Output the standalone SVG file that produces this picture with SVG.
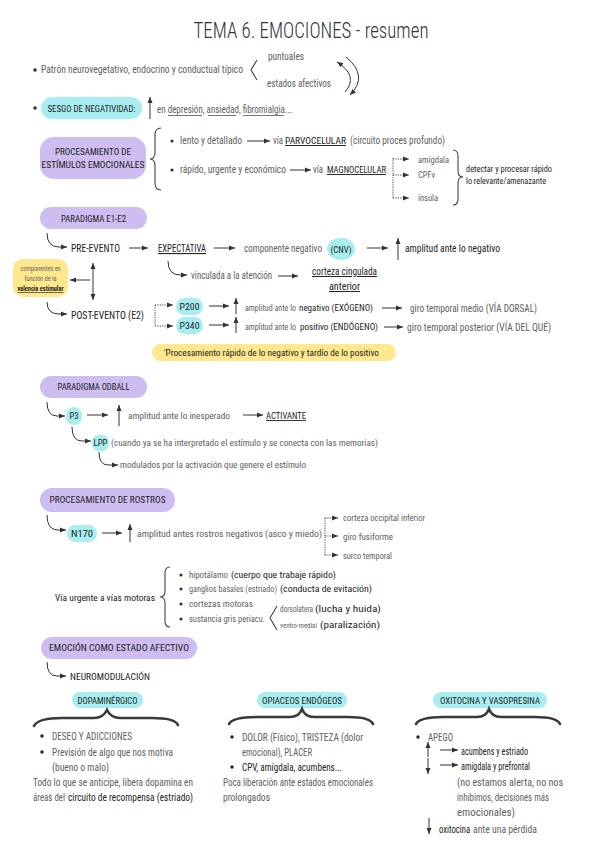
<svg xmlns="http://www.w3.org/2000/svg" width="600" height="848" viewBox="0 0 600 848">
<defs>
<style>
text{font-family:"Roboto Condensed","Noto Sans Condensed","Liberation Sans Narrow","Liberation Sans",sans-serif;font-stretch:condensed;font-size:10px;fill:#606060}
.d{fill:#222}
.b{fill:#1e1e1e;font-size:9px}
.s{font-size:8.5px}
.m{font-size:9px}
.u{text-decoration:underline}
.mid{text-anchor:middle}
.pu{fill:#cdbdf0}
.cy{fill:#a8eef0}
.ye{fill:#fde88e}
.ln{fill:none;stroke:#333;stroke-width:1}
.ul{fill:none;stroke:#555;stroke-width:0.8}
.dot{fill:none;stroke:#444;stroke-width:1;stroke-dasharray:1.2 1.2}
.br{fill:none;stroke:#444;stroke-width:1.1}
.hb{fill:none;stroke:#3a3a3a;stroke-width:2.6;stroke-linecap:round}
</style>
<marker id="ah" markerWidth="7" markerHeight="6" refX="6" refY="3" orient="auto" markerUnits="userSpaceOnUse">
<path d="M0 0.5 L6 3 L0 5.5 Z" fill="#333"/>
</marker>
<marker id="as" markerWidth="7" markerHeight="6" refX="6" refY="3" orient="auto-start-reverse" markerUnits="userSpaceOnUse">
<path d="M0 0.5 L6 3 L0 5.5 Z" fill="#333"/>
</marker>
</defs>
<rect width="600" height="848" fill="#fff"/>

<g id="title"><text x="311" y="38" class="mid" style="font-size:22px;fill:#333;font-weight:300" textLength="235" lengthAdjust="spacingAndGlyphs">TEMA 6. EMOCIONES - resumen</text></g>

<g id="patron">
<circle cx="35" cy="70" r="1.8" fill="#333"/>
<text x="41" y="73" textLength="202" lengthAdjust="spacingAndGlyphs">Patrón neurovegetativo, endocrino y conductual típico</text>
<path class="br" d="M257 60 L251 70 L257 80"/>
<text x="268" y="60" textLength="36" lengthAdjust="spacingAndGlyphs">puntuales</text>
<text x="267" y="87" textLength="64" lengthAdjust="spacingAndGlyphs">estados afectivos</text>
</g>

<g id="sesgo">
<circle cx="35" cy="108" r="1.8" fill="#333"/>
<rect x="41" y="97" width="101" height="22" rx="11" class="cy"/>
<text x="91.5" y="112" class="b mid" textLength="88" lengthAdjust="spacingAndGlyphs">SESGO DE NEGATIVIDAD:</text>
<text x="157" y="113" textLength="135" lengthAdjust="spacingAndGlyphs">en depresión, ansiedad, fibromialgia...</text>
<path class="ul" d="M168 115.5 H202 M208 115.5 H236 M243 115.5 H284"/>
</g>

<g id="procesamiento">
<rect x="40" y="137" width="106" height="42" rx="14" class="pu"/>
<text x="93" y="155" class="b mid" textLength="76" lengthAdjust="spacingAndGlyphs">PROCESAMIENTO DE</text>
<text x="93" y="168" class="b mid" textLength="103" lengthAdjust="spacingAndGlyphs">ESTÍMULOS EMOCIONALES</text>
<path class="br" d="M161 128 Q155 128 155 135 L155 152 Q155 159 150 159 Q155 159 155 166 L155 183 Q155 190 161 190"/>
<circle cx="172" cy="141" r="1.6" fill="#333"/>
<text x="180" y="144" textLength="62" lengthAdjust="spacingAndGlyphs">lento y detallado</text>
<text x="273" y="144" textLength="10" lengthAdjust="spacingAndGlyphs">vía</text>
<text x="285" y="144" class="u d" style="font-size:9.5px" textLength="61" lengthAdjust="spacingAndGlyphs">PARVOCELULAR</text>
<text x="350" y="144" textLength="95" lengthAdjust="spacingAndGlyphs">(circuito proces profundo)</text>
<circle cx="172" cy="170" r="1.6" fill="#333"/>
<text x="180" y="173" textLength="106" lengthAdjust="spacingAndGlyphs">rápido, urgente y económico</text>
<text x="313" y="173" textLength="10" lengthAdjust="spacingAndGlyphs">vía</text>
<text x="327" y="173" class="u d" style="font-size:9.5px" textLength="59" lengthAdjust="spacingAndGlyphs">MAGNOCELULAR</text>
<text x="418" y="163" class="s">amígdala</text>
<text x="418" y="178" class="s">CPFv</text>
<text x="418" y="201" class="s">ínsula</text>
<path class="br" d="M453 150 Q458 150 458 156 L458 171 Q458 177 463 177 Q458 177 458 183 L458 199 Q458 205 453 205"/>
<text x="466" y="172" class="b" textLength="86" lengthAdjust="spacingAndGlyphs">detectar y procesar rápido</text>
<text x="466" y="184" class="b" textLength="80" lengthAdjust="spacingAndGlyphs">lo relevante/amenazante</text>
</g>

<g id="paradigma-e1e2">
<rect x="40" y="207" width="107" height="22" rx="11" class="pu"/>
<text x="93.5" y="222" class="b mid" textLength="65" lengthAdjust="spacingAndGlyphs">PARADIGMA E1-E2</text>
<text x="71" y="252" class="d" style="font-size:11px" textLength="49" lengthAdjust="spacingAndGlyphs">PRE-EVENTO</text>
<text x="158" y="252" class="d u" style="font-size:11px" textLength="48" lengthAdjust="spacingAndGlyphs">EXPECTATIVA</text>
<text x="244" y="252" style="font-size:10px" textLength="78" lengthAdjust="spacingAndGlyphs">componente negativo</text>
<ellipse cx="341" cy="249" rx="14" ry="11" class="cy"/>
<text x="341" y="253" class="b mid" style="font-size:8.5px" textLength="21" lengthAdjust="spacingAndGlyphs">(CNV)</text>
<text x="405" y="252" class="d" textLength="95" lengthAdjust="spacingAndGlyphs">amplitud ante lo negativo</text>
<text x="191" y="279" textLength="81" lengthAdjust="spacingAndGlyphs">vinculada a la atención</text>
<text x="312" y="275" class="d u" textLength="65" lengthAdjust="spacingAndGlyphs">corteza cingulada</text>
<text x="344.5" y="290" class="d u mid" textLength="31" lengthAdjust="spacingAndGlyphs">anterior</text>
<rect x="13" y="259" width="55" height="38" rx="10" class="ye"/>
<text x="40.5" y="271" class="mid" style="font-size:6.5px" textLength="40" lengthAdjust="spacingAndGlyphs">componentes en</text>
<text x="40.5" y="281" class="mid" style="font-size:6.5px" textLength="32" lengthAdjust="spacingAndGlyphs">función de la</text>
<text x="40.5" y="291" class="d u mid" style="font-size:6.5px;font-weight:bold" textLength="46" lengthAdjust="spacingAndGlyphs">valencia estimular</text>
<text x="71" y="319" class="d" style="font-size:11px" textLength="73" lengthAdjust="spacingAndGlyphs">POST-EVENTO (E2)</text>
<rect x="176" y="298" width="27" height="17" rx="8.5" class="cy"/>
<text x="189.5" y="310" class="b mid" textLength="20" lengthAdjust="spacingAndGlyphs">P200</text>
<rect x="176" y="317" width="27" height="17" rx="8.5" class="cy"/>
<text x="189.5" y="329" class="b mid" textLength="20" lengthAdjust="spacingAndGlyphs">P340</text>
<text x="245" y="311" class="s" textLength="51" lengthAdjust="spacingAndGlyphs">amplitud ante lo</text>
<text x="299" y="311" class="s d" textLength="74" lengthAdjust="spacingAndGlyphs">negativo (EXÓGENO)</text>
<text x="245" y="330" class="s" textLength="51" lengthAdjust="spacingAndGlyphs">amplitud ante lo</text>
<text x="300" y="330" class="s d" textLength="78" lengthAdjust="spacingAndGlyphs">positivo (ENDÓGENO)</text>
<text x="410" y="312" textLength="127" lengthAdjust="spacingAndGlyphs">giro temporal medio (VÍA DORSAL)</text>
<text x="407" y="331" textLength="144" lengthAdjust="spacingAndGlyphs">giro temporal posterior (VÍA DEL QUÉ)</text>
<rect x="152" y="344" width="244" height="17" rx="8.5" class="ye"/>
<text x="164" y="356" class="b" textLength="215" lengthAdjust="spacingAndGlyphs">'Procesamiento rápido de lo negativo y tardío de lo positivo</text>
</g>

<g id="oddball">
<rect x="40" y="376" width="107" height="22" rx="11" class="pu"/>
<text x="93.5" y="390" class="b mid" style="font-size:8.5px" textLength="72" lengthAdjust="spacingAndGlyphs">PARADIGMA ODBALL</text>
<rect x="66" y="407" width="16" height="18" rx="8" class="cy"/>
<text x="74" y="419" class="b mid" textLength="9" lengthAdjust="spacingAndGlyphs">P3</text>
<text x="128" y="419" class="m" textLength="102" lengthAdjust="spacingAndGlyphs">amplitud ante lo inesperado</text>
<text x="266" y="419" class="d u" style="font-size:9px" textLength="40" lengthAdjust="spacingAndGlyphs">ACTIVANTE</text>
<rect x="92" y="435" width="17" height="16" rx="7" class="cy"/>
<text x="100.5" y="446" class="b mid" textLength="14" lengthAdjust="spacingAndGlyphs">LPP</text>
<text x="111" y="446" class="m" textLength="267" lengthAdjust="spacingAndGlyphs">(cuando ya se ha interpretado el estímulo y se conecta con las memorias)</text>
<text x="120" y="468" class="m" textLength="186" lengthAdjust="spacingAndGlyphs">modulados por la activación que genere el estímulo</text>
</g>

<g id="rostros">
<rect x="40" y="488" width="135" height="24" rx="12" class="pu"/>
<text x="107.5" y="503" class="b mid" textLength="116" lengthAdjust="spacingAndGlyphs">PROCESAMIENTO DE ROSTROS</text>
<rect x="67" y="525" width="30" height="17" rx="8.5" class="cy"/>
<text x="82" y="537" class="b mid" textLength="22" lengthAdjust="spacingAndGlyphs">N170</text>
<text x="137" y="537" class="m" textLength="185" lengthAdjust="spacingAndGlyphs">amplitud antes rostros negativos (asco y miedo)</text>
<text x="343" y="521" class="s" textLength="82" lengthAdjust="spacingAndGlyphs">corteza occipital inferior</text>
<text x="343" y="540" class="s" textLength="50" lengthAdjust="spacingAndGlyphs">giro fusiforme</text>
<text x="343" y="559" class="s" textLength="49" lengthAdjust="spacingAndGlyphs">surco temporal</text>
</g>

<g id="via-urgente">
<text x="55" y="601" class="d" style="font-size:9.5px" textLength="100" lengthAdjust="spacingAndGlyphs">Vía urgente a vías motoras</text>
<path class="br" d="M170 567 Q165 567 165 573 L165 591 Q165 597 160 597 Q165 597 165 603 L165 621 Q165 627 170 627"/>
<circle cx="181" cy="575" r="1.6" fill="#333"/>
<text x="189" y="578" style="font-size:9.5px" textLength="39" lengthAdjust="spacingAndGlyphs">hipotálamo</text>
<text x="231" y="578" class="d" style="font-size:9.5px" textLength="105" lengthAdjust="spacingAndGlyphs">(cuerpo que trabaje rápido)</text>
<circle cx="181" cy="589" r="1.6" fill="#333"/>
<text x="189" y="592" style="font-size:9px" textLength="88" lengthAdjust="spacingAndGlyphs">ganglios basales (estriado)</text>
<text x="280" y="592" class="d" style="font-size:9.5px" textLength="92" lengthAdjust="spacingAndGlyphs">(conducta de evitación)</text>
<circle cx="181" cy="604" r="1.6" fill="#333"/>
<text x="189" y="607" style="font-size:9.5px" textLength="64" lengthAdjust="spacingAndGlyphs">cortezas motoras</text>
<circle cx="181" cy="619" r="1.6" fill="#333"/>
<text x="189" y="622" style="font-size:9.5px" textLength="76" lengthAdjust="spacingAndGlyphs">sustancia gris periacu.</text>
<path class="br" d="M277 606 L270 618 L277 630"/>
<text x="280" y="612" style="font-size:8.5px" textLength="33" lengthAdjust="spacingAndGlyphs">dorsolatera</text>
<text x="315" y="612" class="d" style="font-size:9.5px" textLength="66" lengthAdjust="spacingAndGlyphs">(lucha y huida)</text>
<text x="280" y="628" style="font-size:8px" textLength="37" lengthAdjust="spacingAndGlyphs">ventro-medial</text>
<text x="320" y="628" class="d" style="font-size:9.5px" textLength="60" lengthAdjust="spacingAndGlyphs">(paralización)</text>
</g>

<g id="emocion">
<rect x="41" y="637" width="156" height="22" rx="11" class="pu"/>
<text x="119" y="651" class="b mid" style="font-size:8.5px" textLength="140" lengthAdjust="spacingAndGlyphs">EMOCIÓN COMO ESTADO AFECTIVO</text>
<text x="70" y="680" class="d" style="font-size:9px" textLength="80" lengthAdjust="spacingAndGlyphs">NEUROMODULACIÓN</text>
</g>

<g id="dopaminergico">
<rect x="72" y="692" width="71" height="16" rx="8" class="cy"/>
<text x="107.5" y="704" class="b mid" textLength="60" lengthAdjust="spacingAndGlyphs">DOPAMINÉRGICO</text>
<path class="hb" d="M34 726 Q38 718 62 718 L94 718 Q103 718 107 710 Q111 718 120 718 L152 718 Q175 718 178 725"/>
<circle cx="42" cy="736" r="1.7" fill="#222"/>
<text x="52" y="740" textLength="80" lengthAdjust="spacingAndGlyphs">DESEO Y ADICCIONES</text>
<circle cx="42" cy="752" r="1.7" fill="#222"/>
<text x="52" y="756" textLength="121" lengthAdjust="spacingAndGlyphs">Previsión de algo que nos motiva</text>
<text x="52" y="771" textLength="57" lengthAdjust="spacingAndGlyphs">(bueno o malo)</text>
<text x="33" y="786" textLength="160" lengthAdjust="spacingAndGlyphs">Todo lo que se anticipe, libera dopamina en</text>
<text x="33" y="801" textLength="32" lengthAdjust="spacingAndGlyphs">áreas del</text>
<text x="68" y="801" class="d" textLength="125" lengthAdjust="spacingAndGlyphs">circuito de recompensa (estriado)</text>
</g>

<g id="opiaceos">
<rect x="257" y="692" width="90" height="16" rx="8" class="cy"/>
<text x="302" y="704" class="b mid" textLength="80" lengthAdjust="spacingAndGlyphs">OPIACEOS ENDÓGEOS</text>
<path class="hb" d="M229 724 Q233 717 256 717 L290 717 Q299 717 302 709 Q305 717 314 717 L348 717 Q370 717 373 724"/>
<circle cx="232" cy="737" r="1.7" fill="#222"/>
<text x="242" y="741" textLength="121" lengthAdjust="spacingAndGlyphs">DOLOR (Físico), TRISTEZA (dolor</text>
<text x="242" y="756" textLength="70" lengthAdjust="spacingAndGlyphs">emocional), PLACER</text>
<circle cx="232" cy="767" r="1.7" fill="#222"/>
<text x="242" y="771" class="d" textLength="100" lengthAdjust="spacingAndGlyphs">CPV, amígdala, acumbens...</text>
<text x="223" y="786" textLength="150" lengthAdjust="spacingAndGlyphs">Poca liberación ante estados emocionales</text>
<text x="223" y="801" textLength="47" lengthAdjust="spacingAndGlyphs">prolongados</text>
</g>

<g id="oxitocina">
<rect x="433" y="692" width="114" height="16" rx="8" class="cy"/>
<text x="490" y="704" class="b mid" textLength="100" lengthAdjust="spacingAndGlyphs">OXITOCINA Y VASOPRESINA</text>
<path class="hb" d="M416 724 Q420 717 443 717 L477 717 Q486 717 489 709 Q492 717 501 717 L535 717 Q557 717 560 724"/>
<circle cx="418" cy="737" r="1.7" fill="#222"/>
<text x="428" y="741" textLength="25" lengthAdjust="spacingAndGlyphs">APEGO</text>
<text x="461" y="755" class="d" textLength="67" lengthAdjust="spacingAndGlyphs">acumbens y estriado</text>
<text x="461" y="770" class="d" textLength="69" lengthAdjust="spacingAndGlyphs">amígdala y prefrontal</text>
<text x="457" y="786" textLength="106" lengthAdjust="spacingAndGlyphs">(no estamos alerta, no nos</text>
<text x="457" y="801" textLength="92" lengthAdjust="spacingAndGlyphs">inhibimos, decisiones más</text>
<text x="457" y="816" textLength="58" lengthAdjust="spacingAndGlyphs">emocionales)</text>
<text x="439" y="833" class="d" textLength="31" lengthAdjust="spacingAndGlyphs">oxitocina</text>
<text x="473" y="833" textLength="64" lengthAdjust="spacingAndGlyphs">ante una pérdida</text>
</g>

<g id="connectors">
<path class="ln" d="M345 92 Q359 76 337 62" marker-end="url(#ah)"/>
<path class="ln" d="M346 57 Q369 76 350 95" marker-end="url(#ah)"/>
<path class="ln" d="M150 119 L150 97" marker-end="url(#ah)"/>
<path class="ln" d="M398 260 L398 238" marker-end="url(#ah)"/>
<path class="ln" d="M236 314 L236 298" marker-end="url(#ah)"/>
<path class="ln" d="M236 333 L236 317" marker-end="url(#ah)"/>
<path class="ln" d="M119 426 L119 405" marker-end="url(#ah)"/>
<path class="ln" d="M130 542 L130 524" marker-end="url(#ah)"/>
<path class="ln" d="M428 757 L428 742" marker-end="url(#ah)"/>
<path class="ln" d="M428 758 L428 774" marker-end="url(#ah)"/>
<path class="ln" d="M429 818 L429 834" marker-end="url(#ah)"/>
<path class="ln" d="M247 141 L270 141" marker-end="url(#ah)"/>
<path class="ln" d="M290 170 L311 170" marker-end="url(#ah)"/>
<path class="ln" d="M129 248 L148 248" marker-end="url(#ah)"/>
<path class="ln" d="M214 248 L235 248" marker-end="url(#ah)"/>
<path class="ln" d="M367 248 L388 248" marker-end="url(#ah)"/>
<path class="ln" d="M278 276 L298 276" marker-end="url(#ah)"/>
<path class="ln" d="M90 280 L70 280" marker-end="url(#ah)"/>
<path class="ln" d="M93 263 L93 300" marker-start="url(#as)" marker-end="url(#as)"/>
<path class="ln" d="M209 306 L229 306" marker-end="url(#ah)"/>
<path class="ln" d="M209 325 L229 325" marker-end="url(#ah)"/>
<path class="ln" d="M382 308 L402 308" marker-end="url(#ah)"/>
<path class="ln" d="M384 327 L403 327" marker-end="url(#ah)"/>
<path class="ln" d="M87 415 L108 415" marker-end="url(#ah)"/>
<path class="ln" d="M243 415 L263 415" marker-end="url(#ah)"/>
<path class="ln" d="M102 533 L122 533" marker-end="url(#ah)"/>
<path class="ln" d="M440 750 L458 750" marker-end="url(#ah)"/>
<path class="ln" d="M440 765 L458 765" marker-end="url(#ah)"/>
<path class="ln" d="M47 233 Q47 247 59 247 L67 247" marker-end="url(#ah)"/>
<path class="ln" d="M168 261 Q168 275 180 275 L187 275" marker-end="url(#ah)"/>
<path class="ln" d="M47 302 Q47 314 59 314 L67 314" marker-end="url(#ah)"/>
<path class="ln" d="M47 402 Q47 416 57 416 L65 416" marker-end="url(#ah)"/>
<path class="ln" d="M72 427 Q72 441 82 441 L91 441" marker-end="url(#ah)"/>
<path class="ln" d="M99 452 Q99 465 108 465 L118 465" marker-end="url(#ah)"/>
<path class="ln" d="M47 515 Q47 530 58 530 L66 530" marker-end="url(#ah)"/>
<path class="ln" d="M47 662 Q47 676 57 676 L66 676" marker-end="url(#ah)"/>
<path class="dot" d="M393 158 L393 198"/>
<path class="dot" d="M393 159 L409 159" marker-end="url(#ah)"/>
<path class="dot" d="M393 175 L409 175" marker-end="url(#ah)"/>
<path class="dot" d="M393 198 L409 198" marker-end="url(#ah)"/>
<path class="dot" d="M155 305 L155 326"/>
<path class="dot" d="M155 305 L173 305" marker-end="url(#ah)"/>
<path class="dot" d="M155 326 L173 326" marker-end="url(#ah)"/>
<path class="dot" d="M325 518 L325 555"/>
<path class="dot" d="M325 518 L338 518" marker-end="url(#ah)"/>
<path class="dot" d="M325 536 L338 536" marker-end="url(#ah)"/>
<path class="dot" d="M325 555 L338 555" marker-end="url(#ah)"/>
</g>
</svg>
